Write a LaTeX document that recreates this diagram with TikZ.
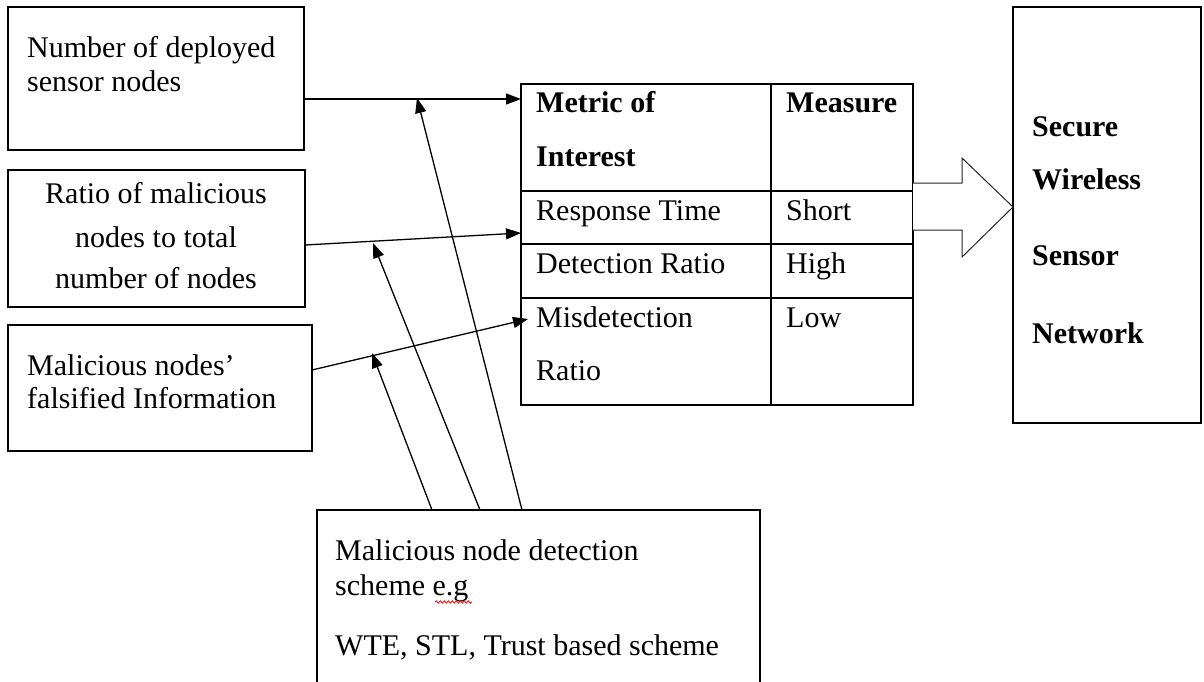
\documentclass[tikz,border=0pt]{standalone}
\usepackage{fontspec}
\setmainfont{Liberation Serif}
\usetikzlibrary{arrows.meta,decorations.pathmorphing,calc}
\begin{document}
\begin{tikzpicture}[x=1pt,y=-1pt,
 box/.style={draw, line width=1.5pt, rectangle, inner sep=0pt, outer sep=0pt, anchor=north west},
 txt/.style={inner sep=0pt, anchor=base west, font=\fontsize{30pt}{36pt}\selectfont},
 ctxt/.style={txt, anchor=base},
 btxt/.style={txt, font=\fontsize{30pt}{36pt}\selectfont\bfseries},
 conn/.style={line width=1.3pt, -{Triangle[length=15pt,width=11pt]}},
 rule/.style={line width=1.5pt},
]
\clip (0,0) rectangle (1204,682);
% boxes
\node[box, minimum width=296pt, minimum height=143pt] (b1) at (8,7) {};
\node[box, minimum width=297pt, minimum height=137pt] (b2) at (8,170) {};
\node[box, minimum width=304pt, minimum height=126pt] (b3) at (8,325) {};
\node[box, minimum width=392pt, minimum height=321pt] (tbl) at (521,84) {};
\node[box, minimum width=188pt, minimum height=416pt] (net) at (1013,7) {};
\node[box, minimum width=443pt, minimum height=190pt] (det) at (317,510) {};
% table rules
\draw[rule] (tbl.west |- 0,191) -- (tbl.east |- 0,191);
\draw[rule] (tbl.west |- 0,244) -- (tbl.east |- 0,244);
\draw[rule] (tbl.west |- 0,298) -- (tbl.east |- 0,298);
\draw[rule] (tbl.north -| 771,0) -- (tbl.south -| 771,0);
% texts
\node[txt] (t1a) at (27,58) {Number of deployed};
\node[txt] (t1b) at (27,92) {sensor nodes};
\node[ctxt] (t2a) at (156,203) {Ratio of malicious};
\node[ctxt] (t2b) at (156,247) {nodes to total};
\node[ctxt] (t2c) at (156,288) {number of nodes};
\node[txt] (t3a) at (27,375) {Malicious nodes'};
\node[txt] (t3b) at (27,408) {falsified Information};
\node[btxt] (h1a) at (536,113) {Metric of};
\node[btxt] (h1b) at (536,166) {Interest};
\node[btxt] (h2) at (786,113) {Measure};
\node[txt] (r1a) at (536,220) {Response Time};
\node[txt] (r1b) at (786,220) {Short};
\node[txt] (r2a) at (536,273) {Detection Ratio};
\node[txt] (r2b) at (786,273) {High};
\node[txt] (r3a) at (536,327) {Misdetection};
\node[txt] (r3c) at (536,380) {Ratio};
\node[txt] (r3b) at (786,327) {Low};
\node[btxt] (n1) at (1032,136) {Secure};
\node[btxt] (n2) at (1032,189) {Wireless};
\node[btxt] (n3) at (1032,265) {Sensor};
\node[btxt] (n4) at (1032,343) {Network};
\node[txt] (d1) at (335,560) {Malicious node detection};
\node[txt] (d2) at (335,595) {scheme e.g};
\node[txt] (d3) at (335,655) {WTE, STL, Trust based scheme};
\draw[red, line width=0.8pt, decorate, decoration={snake, amplitude=1.2pt, segment length=4pt}] (435,602) -- (472,602);
% block arrow
\draw[line width=1pt, black!85, fill=white] (tbl.east |- 0,183) -- (962,183) -- (962,158) -- (net.west |- 0,207) -- (962,257) -- (962,230) -- (tbl.east |- 0,230);
% connectors
\coordinate (m3) at (528,319);
\coordinate (u1) at (372,353);
\coordinate (u2) at (373,243);
\coordinate (u3) at (417,98);
\draw[conn] (b1.east |- 0,99) -- (tbl.west |- 0,99);
\draw[conn] (b2.east |- 0,245) -- (tbl.west |- 0,233);
\draw[conn] (b3.east |- 0,370) -- (m3);
\draw[conn] (det.north -| 432,0) -- (u1);
\draw[conn] (det.north -| 480,0) -- (u2);
\draw[conn] (det.north -| 522,0) -- (u3);
\end{tikzpicture}
\end{document}
